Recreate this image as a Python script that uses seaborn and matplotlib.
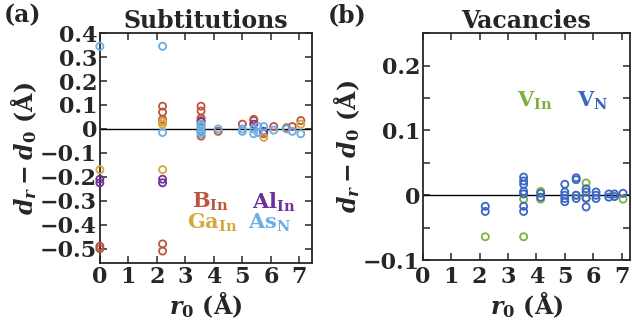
import matplotlib

matplotlib.use("Agg")
import matplotlib.pyplot as plt  # noqa: E402
import seaborn as sns  # noqa: E402
from matplotlib.ticker import FuncFormatter, MultipleLocator  # noqa: E402

# ── Data: panel (a) substitutions ─────────────────────────────────────────────
B_IN_R = [0, 0, 2.2, 2.2, 2.2, 2.2, 2.2, 2.2, 3.55, 3.55, 3.55, 3.55, 3.55,
          4.15, 5.0, 5.4, 5.4, 5.75, 6.1, 6.55, 6.75, 7.05]
B_IN_D = [-0.49, -0.50, 0.095, 0.07, 0.04, 0.03, -0.48, -0.51, 0.095, 0.075,
          0.045, 0.035, -0.03, -0.01, 0.02, 0.035, 0.04, -0.02, 0.01, 0.005,
          0.01, 0.035]

AL_IN_R = [0, 0, 2.2, 2.2, 3.55, 3.55, 5.4, 5.75]
AL_IN_D = [-0.21, -0.225, -0.21, -0.225, 0.03, -0.01, 0.02, -0.01]

GA_IN_R = [0, 2.2, 2.2, 2.2, 3.55, 3.55, 5.75, 7.05]
GA_IN_D = [-0.17, 0.03, 0.02, -0.17, 0.02, 0.01, -0.035, 0.02]

AS_N_R = [0, 2.2, 2.2, 3.55, 3.55, 3.55, 3.55, 3.55, 4.15, 5.0, 5.0, 5.4, 5.4,
          5.55, 5.55, 5.75, 6.1, 6.55, 6.75, 7.05]
AS_N_D = [0.345, 0.345, -0.015, 0.02, 0.01, 0.0, -0.01, -0.02, 0.0, 0.0, -0.01,
          0.0, -0.02, -0.015, 0.01, 0.01, -0.005, 0.0, -0.01, -0.02]

# ── Data: panel (b) vacancies ─────────────────────────────────────────────────
V_IN_R = [2.2, 3.55, 3.55, 4.15, 4.15, 5.4, 5.75, 5.75, 7.05]
V_IN_D = [-0.064, -0.064, -0.006, 0.006, -0.006, 0.0, 0.019, -0.004, -0.006]

V_N_R = [2.2, 2.2, 3.55, 3.55, 3.55, 3.55, 3.55, 3.55, 3.55, 4.15, 4.15,
         5.0, 5.0, 5.0, 5.0, 5.0, 5.4, 5.4, 5.4, 5.4, 5.75, 5.75, 5.75, 5.75,
         6.1, 6.1, 6.1, 6.55, 6.55, 6.75, 6.75, 7.05]
V_N_D = [-0.017, -0.025, 0.028, 0.022, 0.017, 0.006, 0.002, -0.017, -0.025,
         0.003, -0.003, 0.017, 0.005, 0.0, -0.005, -0.01, 0.027, 0.024, 0.0,
         -0.005, 0.01, 0.005, -0.005, -0.018, 0.005, 0.0, -0.005, 0.002,
         -0.003, 0.002, -0.002, 0.003]

SUB_LABELS = [r"B$_\mathrm{In}$", r"Al$_\mathrm{In}$", r"Ga$_\mathrm{In}$", r"As$_\mathrm{N}$"]
SUB_COLORS = ["#c0533d", "#70309a", "#d6a73a", "#6aaee6"]
VAC_LABELS = [r"V$_\mathrm{In}$", r"V$_\mathrm{N}$"]
VAC_COLORS = ["#7db23c", "#3b66c2"]

# ── Style ─────────────────────────────────────────────────────────────────────
sns.set_style("ticks")
plt.rcParams["font.family"] = ["DejaVu Serif"]
plt.rcParams["font.weight"] = "bold"
plt.rcParams["axes.titleweight"] = "bold"
plt.rcParams["axes.labelweight"] = "bold"
plt.rcParams["mathtext.fontset"] = "custom"
plt.rcParams["mathtext.rm"] = "DejaVu Serif:bold"
plt.rcParams["mathtext.bf"] = "DejaVu Serif:bold"
plt.rcParams["mathtext.it"] = "DejaVu Serif:italic:bold"


def tick_fmt(v, _):
    v = round(v, 6)
    if v == 0:
        return "0"
    return f"{v:g}".replace("-", "\u2212")


fmt = FuncFormatter(tick_fmt)


def style_axes(ax, xlim, ylim, ymajor, yminor):
    ax.set_xlim(*xlim)
    ax.set_ylim(*ylim)
    ax.xaxis.set_major_locator(MultipleLocator(1))
    ax.yaxis.set_major_locator(MultipleLocator(ymajor))
    if yminor:
        ax.yaxis.set_minor_locator(MultipleLocator(yminor))
    ax.yaxis.set_major_formatter(fmt)
    ax.xaxis.set_major_formatter(fmt)
    ax.tick_params(which="both", direction="in", top=True, right=True,
                   labelsize=16, width=1.1, pad=2)
    ax.tick_params(which="major", length=5)
    ax.tick_params(which="minor", length=5)
    for sp in ax.spines.values():
        sp.set_linewidth(1.3)
    ax.axhline(0, color="black", lw=1.0, zorder=1)
    ax.set_xlabel(r"$r_0$ (Å)", fontsize=17, labelpad=1)
    ax.set_ylabel(r"$d_r - d_0$ (Å)", fontsize=17, labelpad=1)


def draw(ax, xs, ys, color):
    sns.scatterplot(x=xs, y=ys, ax=ax, marker="o", s=26, facecolors="none",
                    edgecolor=color, linewidth=1.3, zorder=3, legend=False,
                    clip_on=False)


fig = plt.figure(figsize=(6.32, 3.28), dpi=100)
ax1 = fig.add_axes([0.158, 0.198, 0.336, 0.701])
ax2 = fig.add_axes([0.669, 0.207, 0.328, 0.692])

# (a) substitutions
for xs, ys, c in zip([B_IN_R, AL_IN_R, GA_IN_R, AS_N_R],
                     [B_IN_D, AL_IN_D, GA_IN_D, AS_N_D], SUB_COLORS):
    draw(ax1, xs, ys, c)
style_axes(ax1, (0, 7.45), (-0.56, 0.4), 0.1, None)
ax1.set_title("Subtitutions", fontsize=17, pad=2)
legend_pos = [(0.52, 0.265), (0.82, 0.265), (0.53, 0.175), (0.80, 0.175)]
for (x, y), lab, c in zip(legend_pos, SUB_LABELS, SUB_COLORS):
    ax1.text(x, y, lab, color=c, fontsize=15, ha="center", va="center",
             transform=ax1.transAxes)

# (b) vacancies
for xs, ys, c in zip([V_IN_R, V_N_R], [V_IN_D, V_N_D], VAC_COLORS):
    draw(ax2, xs, ys, c)
style_axes(ax2, (0, 7.3), (-0.1, 0.25), 0.1, 0.05)
ax2.tick_params(axis="x", pad=4)
ax2.set_title("Vacancies", fontsize=17, pad=2)
for (x, y), lab, c in zip([(0.54, 0.70), (0.82, 0.70)], VAC_LABELS, VAC_COLORS):
    ax2.text(x, y, lab, color=c, fontsize=15, ha="center", va="center",
             transform=ax2.transAxes)

fig.text(0.035, 0.955, "(a)", fontsize=17, ha="center", va="center")
fig.text(0.549, 0.955, "(b)", fontsize=17, ha="center", va="center")

fig.savefig("out.png", dpi=100)
plt.close(fig)
